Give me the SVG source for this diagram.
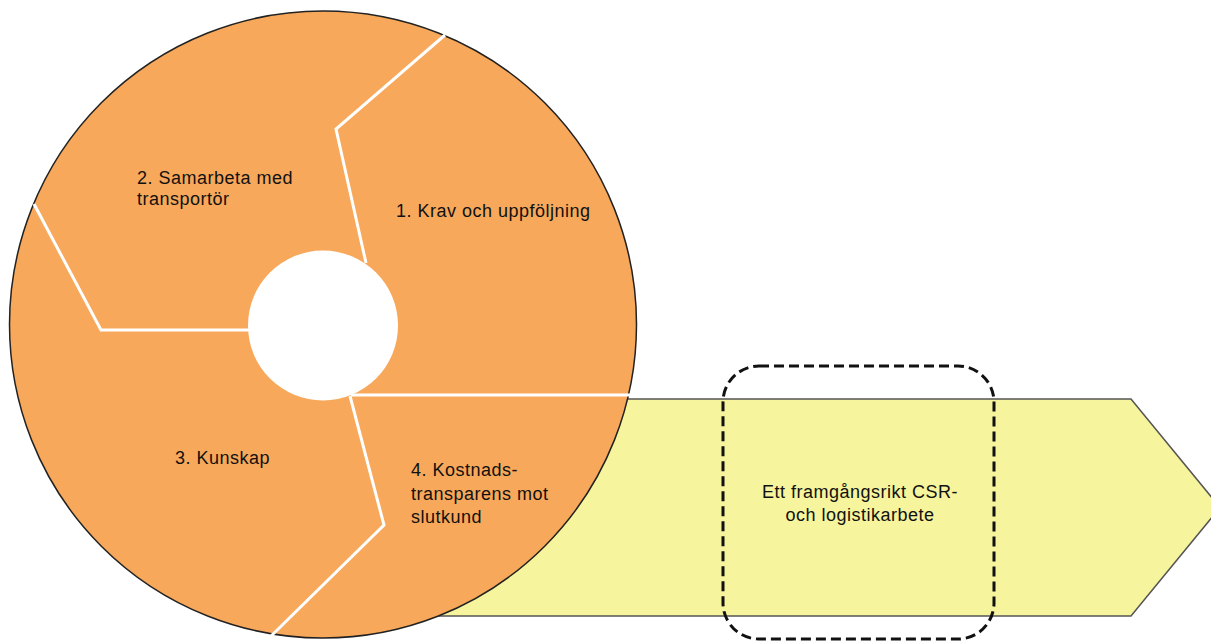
<svg xmlns="http://www.w3.org/2000/svg" width="1211" height="641" viewBox="0 0 1211 641">
<style>
.lbl{font-family:"Liberation Sans",Arial,sans-serif;font-size:18px;letter-spacing:0.5px;fill:#111}
.sep{fill:none;stroke:#fff;stroke-width:3;stroke-linejoin:miter}
</style>
<rect width="1211" height="641" fill="#fff"/>
<g id="arrow">
<polygon points="420,399 1131,399 1220,507.5 1131,616 420,616" fill="#F6F49C" stroke="#555" stroke-width="1.5"/>
</g>
<g id="cycle">
<circle cx="323" cy="324.5" r="313.5" fill="#F8A85A" stroke="#222" stroke-width="1.5"/>
<circle cx="323" cy="325.5" r="75" fill="#fff"/>
</g>
<g id="connectors">
<polyline class="sep" points="445,35 336,129 366,263"/>
<polyline class="sep" points="34,204 101,330 249,330"/>
<polyline class="sep" points="351,395 630,395"/>
<polyline class="sep" points="350,396 384,525 268,639"/>
</g>
<g id="seg1"><text class="lbl" x="396" y="217">1. Krav och uppföljning</text></g>
<g id="seg2"><text class="lbl" x="137" y="184" letter-spacing="0.75">2. Samarbeta med</text><text class="lbl" x="137" y="205" letter-spacing="0.75">transportör</text></g>
<g id="seg3"><text class="lbl" x="175" y="464">3. Kunskap</text></g>
<g id="seg4"><text class="lbl" x="411" y="476">4. Kostnads-</text><text class="lbl" x="411" y="500">transparens mot</text><text class="lbl" x="411" y="523">slutkund</text></g>
<g id="goal">
<rect x="723" y="366" width="271" height="273" rx="36" ry="36" fill="none" stroke="#111" stroke-width="3" stroke-dasharray="10,5"/>
<text class="lbl" x="860" y="498" text-anchor="middle">Ett framgångsrikt CSR-</text>
<text class="lbl" x="860" y="521" text-anchor="middle">och logistikarbete</text>
</g>
</svg>
